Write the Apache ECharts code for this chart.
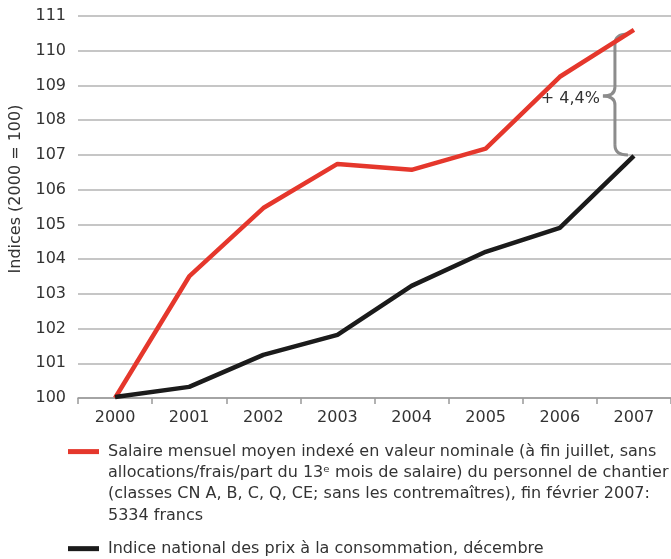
<!DOCTYPE html>
<html>
<head>
<meta charset="utf-8">
<script src="https://cdn.jsdelivr.net/npm/echarts@6/dist/echarts.min.js"></script>
<style>
html,body{margin:0;padding:0;background:#fff}
#chart{width:671px;height:559px}
</style>
</head>
<body>
<div id="chart"></div>
<script>
// donnees (indices, 2000 = 100)
var annees = ['2000', '2001', '2002', '2003', '2004', '2005', '2006', '2007'];
var salaire = [100.0, 103.5, 105.47, 106.74, 106.57, 107.18, 109.25, 110.6];
var prix = [100.03, 100.32, 101.24, 101.82, 103.23, 104.21, 104.9, 106.97];
var ecartLabel = '+ 4,4%';

var nomSalaire = 'Salaire';
var nomPrix = 'Prix';
var texteSalaire = 'Salaire mensuel moyen indexé en valeur nominale (à fin juillet, sans\n' +
	'allocations/frais/part du 13ᵉ mois de salaire) du personnel de chantier\n' +
	'(classes CN A, B, C, Q, CE; sans les contremaîtres), fin février 2007:\n' +
	'5334 francs';
var textePrix = 'Indice national des prix à la consommation, décembre';

var FONT = 'DejaVu Sans';
var ROUGE = '#e5372c';
var NOIR = '#1b1b1b';
var TEXTE = '#333';

var chart = echarts.init(document.getElementById('chart'));

var legendText = {
	fontFamily: FONT,
	fontSize: 16,
	color: TEXTE,
	lineHeight: 21.3,
	rich: {
		t: { fontFamily: FONT, fontSize: 16, color: TEXTE, lineHeight: 21.3 }
	}
};

var option = {
	animation: false,
	textStyle: { fontFamily: FONT },
	grid: { left: 75, right: -4, top: 16, bottom: 161, containLabel: false },
	xAxis: {
		type: 'category',
		data: annees,
		boundaryGap: true,
		axisLine: { lineStyle: { color: '#999', width: 1.5 } },
		axisTick: { show: true, length: 6, lineStyle: { color: '#999', width: 1.5 } },
		axisLabel: { color: TEXTE, fontSize: 16, fontFamily: FONT, margin: 12 }
	},
	yAxis: {
		type: 'value',
		min: 100,
		max: 111,
		interval: 1,
		name: 'Indices (2000 = 100)',
		nameLocation: 'middle',
		nameGap: 54,
		nameTextStyle: { color: TEXTE, fontSize: 16, fontFamily: FONT, padding: [0, 0, 0, 36] },
		axisLine: { show: false },
		axisTick: { show: false },
		axisLabel: { color: TEXTE, fontSize: 16, fontFamily: FONT, margin: 12 },
		splitLine: { lineStyle: { color: '#b3b3b3', width: 1.5 } }
	},
	legend: [
		{
			left: 68,
			top: 377,
			padding: 0,
			orient: 'vertical',
			icon: 'rect',
			itemWidth: 31,
			itemHeight: 5,
			data: [{ name: nomSalaire, textStyle: { padding: [64, 0, 0, 4] } }],
			formatter: function () { return texteSalaire; },
			textStyle: legendText
		},
		{
			left: 68,
			top: 538,
			padding: 0,
			orient: 'vertical',
			icon: 'rect',
			itemWidth: 31,
			itemHeight: 5,
			data: [{ name: nomPrix, textStyle: { padding: [0, 0, 0, 4] } }],
			formatter: function () { return textePrix; },
			textStyle: legendText
		}
	],
	series: [
		{
			name: nomSalaire,
			type: 'line',
			data: salaire,
			showSymbol: false,
			lineStyle: { color: ROUGE, width: 4.5 },
			itemStyle: { color: ROUGE }
		},
		{
			name: nomPrix,
			type: 'line',
			data: prix,
			showSymbol: false,
			lineStyle: { color: NOIR, width: 4.5 },
			itemStyle: { color: NOIR }
		}
	]
};

chart.setOption(option);

// accolade grise entre les deux courbes en 2007
var n = annees.length - 1;
var x7 = chart.convertToPixel({ xAxisIndex: 0 }, annees[n]);
var yHaut = chart.convertToPixel({ yAxisIndex: 0 }, salaire[n]);
var yBas = chart.convertToPixel({ yAxisIndex: 0 }, prix[n]);
var bx = x7 - 19;
var milieu = (yHaut + yBas) / 2 + 3;
var trait = { fill: null, stroke: '#8c8c8c', lineWidth: 3 };

function courbe(x1, y1, cx, cy, x2, y2) {
	return { type: 'bezierCurve', shape: { x1: x1, y1: y1, cpx1: cx, cpy1: cy, x2: x2, y2: y2 }, style: trait };
}
function droite(x1, y1, x2, y2) {
	return { type: 'line', shape: { x1: x1, y1: y1, x2: x2, y2: y2 }, style: trait };
}

chart.setOption({
	graphic: [
		{
			type: 'group',
			z: 10,
			children: [
				courbe(x7 - 6, yHaut + 4, bx, yHaut + 4, bx, yHaut + 14),
				droite(bx, yHaut + 14, bx, milieu - 9),
				courbe(bx, milieu - 9, bx, milieu, bx - 12, milieu),
				courbe(bx - 12, milieu, bx, milieu, bx, milieu + 9),
				droite(bx, milieu + 9, bx, yBas - 11),
				courbe(bx, yBas - 11, bx, yBas - 1, x7 - 6, yBas - 1)
			]
		},
		{
			type: 'text',
			x: bx - 15,
			y: milieu + 3,
			z: 10,
			style: {
				text: ecartLabel,
				fontFamily: FONT,
				fontSize: 16,
				fill: TEXTE,
				align: 'right',
				verticalAlign: 'middle'
			}
		}
	]
});
</script>
</body>
</html>
